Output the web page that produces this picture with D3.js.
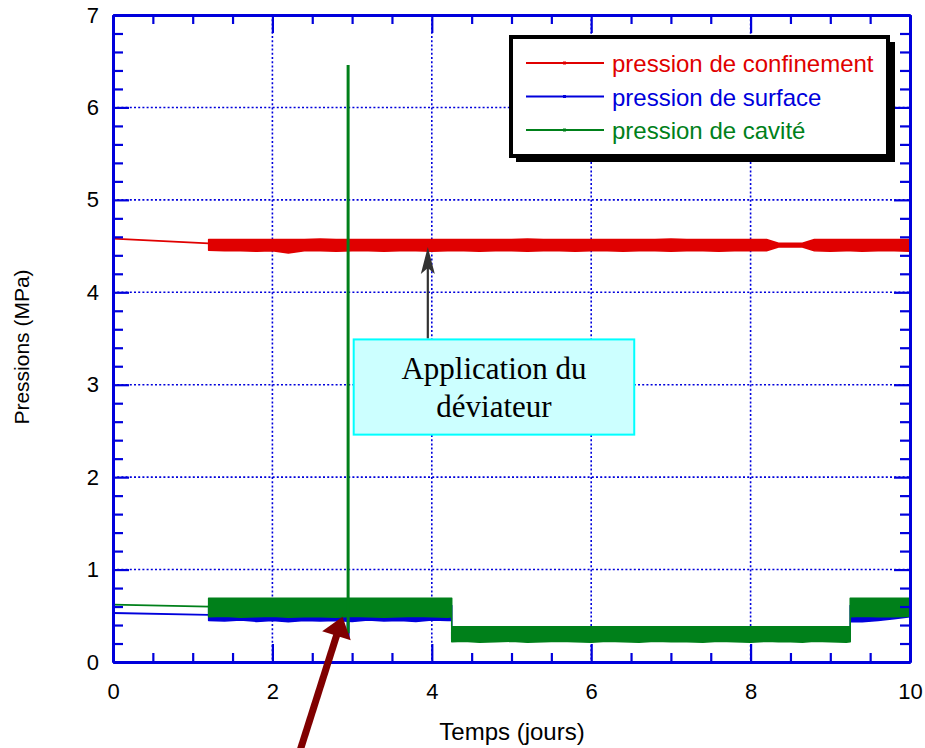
<!DOCTYPE html>
<html><head><meta charset="utf-8">
<script src="https://cdn.jsdelivr.net/npm/d3@7"></script>
<style>body{margin:0;background:#fff}svg{display:block}</style>
</head><body>
<script>
// ---------------- data ----------------
const xTicks = [0, 2, 4, 6, 8, 10];
const yTicks = [0, 1, 2, 3, 4, 5, 6, 7];
const seriesNames = ["pression de confinement", "pression de surface", "pression de cavité"];
const seriesColors = ["#e00000", "#0000dc", "#00801a"];

// initial sparse segment (days, MPa)
const startT = [0, 1.2];
const redStart = [4.58, 4.53];
const blueStart = [0.53, 0.51];
const greenStart = [0.62, 0.60];

// dense noisy recording, drawn as low/high envelope
const bandT = [
  1.2, 1.4, 1.6, 1.8, 2.0, 2.2, 2.4, 2.6, 2.8, 3.0, 3.2, 3.4, 3.6, 3.8, 4.0, 4.2, 4.25,
  4.25, 4.4, 4.6, 4.8, 5.0, 5.2, 5.4, 5.6, 5.8, 6.0, 6.2, 6.4, 6.6, 6.8, 7.0, 7.2, 7.4, 7.6, 7.8, 8.0, 8.2, 8.35, 8.5, 8.65, 8.8, 9.0, 9.2, 9.25,
  9.25, 9.4, 9.6, 9.8, 10.0
];
const redHi = [
  4.56, 4.56, 4.56, 4.56, 4.56, 4.56, 4.56, 4.565, 4.56, 4.56, 4.56, 4.56, 4.56, 4.56, 4.56, 4.56, 4.56,
  4.56, 4.56, 4.56, 4.56, 4.56, 4.565, 4.56, 4.56, 4.56, 4.56, 4.56, 4.56, 4.56, 4.56, 4.565, 4.56, 4.56, 4.56, 4.56, 4.56, 4.56, 4.52, 4.52, 4.52, 4.56, 4.56, 4.56, 4.56,
  4.56, 4.56, 4.56, 4.56, 4.56
];
const redLo = [
  4.465, 4.46, 4.46, 4.455, 4.46, 4.435, 4.46, 4.46, 4.455, 4.46, 4.46, 4.455, 4.46, 4.46, 4.455, 4.46, 4.46,
  4.46, 4.46, 4.455, 4.46, 4.46, 4.455, 4.46, 4.46, 4.455, 4.46, 4.46, 4.455, 4.46, 4.46, 4.455, 4.46, 4.46, 4.455, 4.46, 4.46, 4.46, 4.50, 4.50, 4.50, 4.46, 4.455, 4.46, 4.46,
  4.46, 4.455, 4.46, 4.46, 4.455
];
const blueHi = [
  0.60, 0.60, 0.61, 0.60, 0.60, 0.61, 0.60, 0.60, 0.61, 0.60, 0.60, 0.61, 0.60, 0.60, 0.61, 0.60, 0.60,
  0.33, 0.33, 0.34, 0.33, 0.33, 0.34, 0.33, 0.33, 0.34, 0.33, 0.33, 0.34, 0.33, 0.33, 0.34, 0.33, 0.33, 0.34, 0.33, 0.33, 0.34, 0.33, 0.33, 0.34, 0.33, 0.33, 0.34, 0.33,
  0.60, 0.61, 0.60, 0.60, 0.61
];
const blueLo = [
  0.46, 0.455, 0.465, 0.45, 0.46, 0.445, 0.46, 0.455, 0.46, 0.45, 0.465, 0.455, 0.46, 0.45, 0.465, 0.46, 0.46,
  0.24, 0.24, 0.25, 0.24, 0.24, 0.25, 0.24, 0.24, 0.25, 0.24, 0.24, 0.25, 0.24, 0.24, 0.25, 0.24, 0.24, 0.25, 0.24, 0.24, 0.25, 0.24, 0.24, 0.25, 0.24, 0.24, 0.25, 0.24,
  0.45, 0.445, 0.46, 0.48, 0.50
];
const greenHi = [
  0.68, 0.68, 0.68, 0.68, 0.68, 0.68, 0.68, 0.68, 0.68, 0.68, 0.68, 0.68, 0.68, 0.68, 0.68, 0.68, 0.68,
  0.37, 0.37, 0.37, 0.37, 0.37, 0.37, 0.37, 0.37, 0.37, 0.37, 0.37, 0.37, 0.37, 0.37, 0.37, 0.37, 0.37, 0.37, 0.37, 0.37, 0.37, 0.37, 0.37, 0.37, 0.37, 0.37, 0.37, 0.37,
  0.68, 0.68, 0.68, 0.68, 0.68
];
const greenLo = [
  0.50, 0.505, 0.495, 0.50, 0.505, 0.495, 0.50, 0.50, 0.495, 0.505, 0.50, 0.495, 0.50, 0.505, 0.50, 0.495, 0.50,
  0.23, 0.235, 0.225, 0.23, 0.235, 0.225, 0.23, 0.235, 0.23, 0.225, 0.235, 0.23, 0.225, 0.235, 0.23, 0.23, 0.225, 0.235, 0.23, 0.225, 0.235, 0.23, 0.23, 0.225, 0.235, 0.23, 0.225, 0.23,
  0.50, 0.505, 0.50, 0.50, 0.505
];
// cavity pressure spike (application du déviateur)
const spikeT = [2.95, 2.95];
const greenSpike = [0.31, 6.46];
const blueSpike = [0.26, 0.50];

// annotations (data coordinates)
const noteLines = ["Application du", "déviateur"];
const noteBox = {t0: 3.02, t1: 6.54, v0: 3.49, v1: 2.46};
const grayArrow = {t: 3.95, from: 3.5, to: 4.49};
const redArrow = {t0: 2.35, v0: -0.95, t1: 2.88, v1: 0.49};

// ---------------- chart ----------------
const W = 925, H = 748;
const L = 113, R = 910, T = 15, B = 662;
const AX = "#0000dc";
const svg = d3.select("body").append("svg").attr("width", W).attr("height", H)
  .style("font-family", "'Liberation Sans', Arial, sans-serif");

const x = d3.scaleLinear().domain([0, 10]).range([L, R]);
const y = d3.scaleLinear().domain([0, 7]).range([B, T]);

// grid
const grid = svg.append("g").attr("stroke", AX).attr("stroke-width", 1.6).attr("stroke-dasharray", "2,2.2");
grid.selectAll(".gx").data(xTicks.slice(1, -1)).join("line")
  .attr("x1", d => x(d)).attr("x2", d => x(d)).attr("y1", T).attr("y2", B);
grid.selectAll(".gy").data(yTicks.slice(1, -1)).join("line")
  .attr("x1", L).attr("x2", R).attr("y1", d => y(d)).attr("y2", d => y(d));

// series
const band = d3.area().x(i => x(bandT[i]));
const idx = d3.range(bandT.length);
const line = d3.line().x(d => x(d[0])).y(d => y(d[1]));
function drawSeries(start, lo, hi, col) {
  svg.append("path").attr("d", line(startT.map((t, i) => [t, start[i]])))
    .attr("fill", "none").attr("stroke", col).attr("stroke-width", 1.8);
  svg.append("path").datum(idx)
    .attr("d", band.y0(i => y(lo[i]) + 1).y1(i => y(hi[i]) - 1))
    .attr("fill", col).attr("stroke", col).attr("stroke-width", 1.5).attr("stroke-linejoin", "round");
}
drawSeries(redStart, redLo, redHi, seriesColors[0]);
drawSeries(blueStart, blueLo, blueHi, seriesColors[1]);
svg.append("path").attr("d", line(spikeT.map((t, i) => [t, blueSpike[i]])))
  .attr("stroke", seriesColors[1]).attr("stroke-width", 3);
drawSeries(greenStart, greenLo, greenHi, seriesColors[2]);
svg.append("path").attr("d", line(spikeT.map((t, i) => [t, greenSpike[i]])))
  .attr("stroke", seriesColors[2]).attr("stroke-width", 3);

// axes
const minorX = d3.range(0, 10.01, 0.5).filter(v => Math.abs(v % 2) > 1e-6);
const minorY = d3.range(0, 7.01, 0.2).filter(v => Math.abs(v - Math.round(v)) > 1e-6);
function styleAxis(g) {
  g.selectAll("path,line").attr("stroke", AX).attr("stroke-width", 2.2);
  g.select(".domain").attr("stroke-width", 3);
  g.selectAll("text").attr("fill", "#000").attr("font-size", 22)
    .attr("font-family", "'Liberation Sans', Arial, sans-serif");
}
// bottom
svg.append("g").attr("transform", `translate(0,${B})`)
  .call(d3.axisBottom(x).tickValues(minorX).tickSize(-9).tickFormat("").tickSizeOuter(0)).call(styleAxis);
svg.append("g").attr("transform", `translate(0,${B})`)
  .call(d3.axisBottom(x).tickValues(xTicks).tickSize(-18).tickPadding(21).tickSizeOuter(0).tickFormat(d3.format("d"))).call(styleAxis);
// top
svg.append("g").attr("transform", `translate(0,${T})`)
  .call(d3.axisTop(x).tickValues(minorX).tickSize(-9).tickFormat("").tickSizeOuter(0)).call(styleAxis);
svg.append("g").attr("transform", `translate(0,${T})`)
  .call(d3.axisTop(x).tickValues(xTicks).tickSize(-18).tickFormat("").tickSizeOuter(0)).call(styleAxis);
// left
svg.append("g").attr("transform", `translate(${L},0)`)
  .call(d3.axisLeft(y).tickValues(minorY).tickSize(-10).tickFormat("").tickSizeOuter(0)).call(styleAxis);
svg.append("g").attr("transform", `translate(${L},0)`)
  .call(d3.axisLeft(y).tickValues(yTicks).tickSize(-16).tickPadding(14).tickSizeOuter(0).tickFormat(d3.format("d"))).call(styleAxis);
// right
svg.append("g").attr("transform", `translate(${R},0)`)
  .call(d3.axisRight(y).tickValues(minorY).tickSize(-10).tickFormat("").tickSizeOuter(0)).call(styleAxis);
svg.append("g").attr("transform", `translate(${R},0)`)
  .call(d3.axisRight(y).tickValues(yTicks).tickSize(-16).tickFormat("").tickSizeOuter(0)).call(styleAxis);

// axis titles
svg.append("text").attr("x", 512).attr("y", 740).attr("text-anchor", "middle")
  .attr("font-size", 24).text("Temps (jours)");
svg.append("text").attr("transform", `translate(29,347) rotate(-90)`)
  .attr("text-anchor", "middle").attr("font-size", 21).text("Pressions (MPa)");

// legend
const lg = svg.append("g");
lg.append("rect").attr("x", 516).attr("y", 42).attr("width", 379).attr("height", 120).attr("fill", "#000");
lg.append("rect").attr("x", 511).attr("y", 37).attr("width", 377).attr("height", 119)
  .attr("fill", "#fff").attr("stroke", "#000").attr("stroke-width", 4);
seriesNames.forEach((name, i) => {
  const yy = 63 + i * 33.5;
  lg.append("line").attr("x1", 526).attr("x2", 604).attr("y1", yy).attr("y2", yy)
    .attr("stroke", seriesColors[i]).attr("stroke-width", 2);
  lg.append("rect").attr("x", 563).attr("y", yy - 1.5).attr("width", 3).attr("height", 3).attr("fill", seriesColors[i]);
  lg.append("text").attr("x", 612).attr("y", yy + 9).attr("font-size", 24)
    .attr("fill", seriesColors[i]).text(name);
});

// gray arrow
const gx = x(grayArrow.t), gy0 = y(grayArrow.from), gy1 = y(grayArrow.to);
svg.append("line").attr("x1", gx).attr("x2", gx).attr("y1", gy0).attr("y2", gy1 + 20)
  .attr("stroke", "#333").attr("stroke-width", 2.2);
svg.append("path").attr("d", `M${gx},${gy1} L${gx - 7},${gy1 + 27} L${gx},${gy1 + 21} L${gx + 7},${gy1 + 27} Z`)
  .attr("fill", "#333");

// note box
const bx0 = x(noteBox.t0), bx1 = x(noteBox.t1), by0 = y(noteBox.v0), by1 = y(noteBox.v1);
svg.append("rect").attr("x", bx0).attr("y", by0).attr("width", bx1 - bx0).attr("height", by1 - by0)
  .attr("fill", "#ccffff").attr("stroke", "#00ffff").attr("stroke-width", 2);
noteLines.forEach((s, i) => {
  svg.append("text").attr("x", (bx0 + bx1) / 2).attr("y", by0 + 40 + i * 38)
    .attr("text-anchor", "middle").attr("font-family", "'Liberation Serif', 'Times New Roman', serif")
    .attr("font-size", 31).attr("fill", "#000").text(s);
});

// dark red arrow
const ax0 = x(redArrow.t0), ay0 = y(redArrow.v0), ax1 = x(redArrow.t1), ay1 = y(redArrow.v1);
const dx = ax1 - ax0, dy = ay1 - ay0, len = Math.hypot(dx, dy), ux = dx / len, uy = dy / len;
const px = -uy, py = ux;
const hl = 20, hw = 15;
const bxm = ax1 - ux * hl, bym = ay1 - uy * hl;
svg.append("line").attr("x1", ax0).attr("y1", ay0).attr("x2", bxm + ux * 2).attr("y2", bym + uy * 2)
  .attr("stroke", "#800000").attr("stroke-width", 7);
svg.append("path").attr("d", `M${ax1},${ay1} L${bxm + px * hw},${bym + py * hw} L${bxm - px * hw},${bym - py * hw} Z`)
  .attr("fill", "#800000");
</script>
</body></html>
